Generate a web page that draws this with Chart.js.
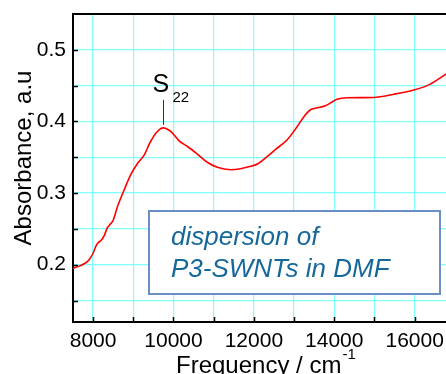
<!DOCTYPE html>
<html>
<head>
<meta charset="utf-8">
<script src="https://cdn.jsdelivr.net/npm/chart.js@4.4.1/dist/chart.umd.min.js"></script>
<style>
  html, body { margin: 0; padding: 0; background: #fff; overflow: hidden; }
  canvas { display: block; }
</style>
</head>
<body>
<canvas id="chart" width="446" height="374"></canvas>
<script>
// spectrum (wavenumber, absorbance)
const freq = [7500, 7650, 7800, 7900, 8000, 8070, 8130, 8200, 8280, 8350, 8420, 8500,
  8600, 8770, 8940, 9100, 9270, 9430, 9600, 9740, 9930, 10140, 10350, 10600, 10840,
  11090, 11420, 11670, 11920, 12100, 12330, 12540, 12830, 13080, 13250, 13400, 13500,
  13780, 14070, 14320, 14980, 15480, 15980, 16310, 16560, 16790];
const absorb = [0.195, 0.198, 0.202, 0.207, 0.216, 0.226, 0.231, 0.234, 0.241, 0.251, 0.256, 0.262,
  0.280, 0.304, 0.326, 0.341, 0.353, 0.372, 0.386, 0.391, 0.386, 0.373, 0.365, 0.354, 0.343,
  0.336, 0.3326, 0.334, 0.3373, 0.341, 0.351, 0.361, 0.3745, 0.393, 0.407, 0.416, 0.418,
  0.422, 0.431, 0.433, 0.4335, 0.438, 0.444, 0.450, 0.458, 0.4665];

const xGrid = [8000, 9000, 10000, 11000, 12000, 13000, 14000, 15000, 16000];
const xTickLabels = [8000, 10000, 12000, 14000, 16000];
const yGrid = [0.15, 0.2, 0.25, 0.3, 0.35, 0.4, 0.45, 0.5];
const yTickLabels = [0.2, 0.3, 0.4, 0.5];
const peakLabel = 'S';
const peakSub = '22';
const peakFreq = 9730;
const peakAbs = 0.391;
const boxLines = ['dispersion of', 'P3-SWNTs in DMF'];

const FONT = '"Liberation Sans", Arial, Helvetica, sans-serif';
const GRID = 'rgb(128,255,255)';

function near(v, list) {
  return list.some(t => Math.abs(t - v) < 1e-6);
}

const decor = {
  id: 'decor',
  afterDatasetsDraw(chart) {
    const { ctx, chartArea: a, scales: { x, y } } = chart;
    ctx.save();

    // top frame line
    ctx.strokeStyle = '#000';
    ctx.lineWidth = 2;
    ctx.beginPath();
    ctx.moveTo(a.left, a.top);
    ctx.lineTo(a.right, a.top);
    ctx.stroke();

    // inward ticks
    ctx.lineWidth = 1.5;
    ctx.beginPath();
    x.ticks.forEach(t => {
      const px = Math.round(x.getPixelForValue(t.value)) + 0.5;
      ctx.moveTo(px, a.bottom);
      ctx.lineTo(px, a.bottom - 5);
    });
    y.ticks.forEach(t => {
      const py = Math.round(y.getPixelForValue(t.value)) + 0.5;
      ctx.moveTo(a.left, py);
      ctx.lineTo(a.left + 5, py);
    });
    ctx.stroke();

    // S22 marker
    const mx = Math.round(x.getPixelForValue(peakFreq)) + 0.5;
    const my = y.getPixelForValue(peakAbs);
    ctx.strokeStyle = '#333';
    ctx.lineWidth = 1;
    ctx.beginPath();
    ctx.moveTo(mx, my - 3);
    ctx.lineTo(mx, my - 28);
    ctx.stroke();
    ctx.fillStyle = '#000';
    ctx.textBaseline = 'alphabetic';
    ctx.textAlign = 'left';
    ctx.font = '25px ' + FONT;
    ctx.fillText(peakLabel, mx - 11, my - 36);
    ctx.font = '15px ' + FONT;
    ctx.fillText(peakSub, mx + 9, my - 26);

    // legend-like box
    ctx.fillStyle = '#fff';
    ctx.fillRect(149, 211, 291, 83);
    ctx.strokeStyle = '#6a8fc4';
    ctx.lineWidth = 2;
    ctx.strokeRect(149, 211, 291, 83);
    ctx.fillStyle = '#17689a';
    ctx.font = 'italic 26px ' + FONT;
    ctx.fillText(boxLines[0], 171, 245);
    ctx.fillText(boxLines[1], 171, 277);

    // axis titles
    ctx.fillStyle = '#000';
    ctx.font = '24px ' + FONT;
    const main = 'Frequency / cm';
    ctx.fillText(main, 176, 373);
    const w = ctx.measureText(main).width;
    ctx.font = '15px ' + FONT;
    ctx.fillText('-1', 176 + w + 1, 359);

    ctx.font = '24px ' + FONT;
    ctx.translate(31, 158);
    ctx.rotate(-Math.PI / 2);
    ctx.textAlign = 'center';
    ctx.fillText('Absorbance, a.u', 0, 0);
    ctx.restore();
  }
};

const points = freq.map((f, i) => ({ x: f, y: absorb[i] }));

new Chart(document.getElementById('chart').getContext('2d'), {
  type: 'line',
  data: {
    datasets: [{
      data: points,
      borderColor: '#ff0000',
      borderWidth: 1.6,
      pointRadius: 0,
      cubicInterpolationMode: 'monotone',
      fill: false
    }]
  },
  options: {
    responsive: false,
    animation: false,
    devicePixelRatio: 1,
    layout: { padding: { top: 14, left: 0, right: 0, bottom: 0 } },
    plugins: { legend: { display: false }, tooltip: { enabled: false } },
    scales: {
      x: {
        type: 'linear',
        min: 7500,
        max: 16780,
        afterBuildTicks(s) { s.ticks = xGrid.map(v => ({ value: v })); },
        afterFit(s) { s.height = 52; s.paddingLeft = 0; s.paddingRight = 0; },
        border: { color: '#000', width: 2 },
        grid: { drawTicks: false, lineWidth: 1.2, color: GRID },
        ticks: {
          padding: 7,
          maxRotation: 0,
          autoSkip: false,
          color: '#000',
          font: { size: 21, family: FONT },
          callback: v => (near(v, xTickLabels) ? String(v) : '')
        }
      },
      y: {
        min: 0.12,
        max: 0.55,
        afterBuildTicks(s) { s.ticks = yGrid.map(v => ({ value: v })); },
        afterFit(s) { s.width = 73; s.paddingTop = 0; s.paddingBottom = 0; },
        border: { color: '#000', width: 2 },
        grid: { drawTicks: false, lineWidth: 1.2, color: GRID },
        ticks: {
          padding: 7,
          autoSkip: false,
          color: '#000',
          font: { size: 21, family: FONT },
          callback: v => (near(v, yTickLabels) ? v.toFixed(1) : '')
        }
      }
    }
  },
  plugins: [decor]
});
</script>
</body>
</html>
